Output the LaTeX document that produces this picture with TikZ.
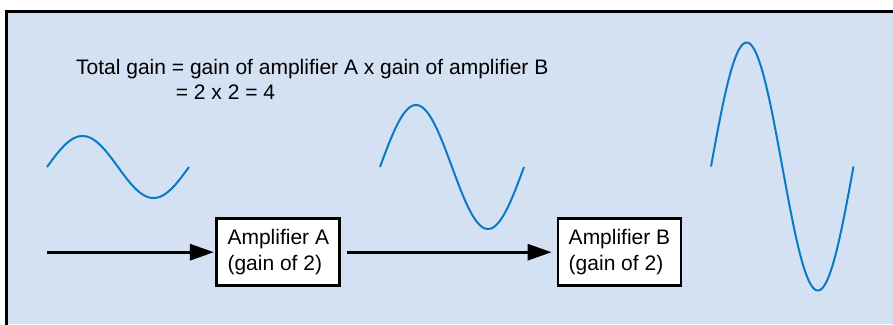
\documentclass[tikz,border=0pt]{standalone}
\usepackage{fontspec}
\setmainfont{Liberation Sans}
\usetikzlibrary{arrows.meta}
\definecolor{bgblue}{RGB}{212,225,243}
\definecolor{waveblue}{RGB}{10,122,196}
\tikzset{
  frameline/.style={line width=3pt, line cap=rect},
  wave/.style={draw=waveblue, line width=2pt},
  ampbox/.style={draw=black, fill=white, line width=2.8pt, minimum width=123pt, minimum height=67pt, inner sep=0pt, align=left, font=\fontsize{21}{26}\selectfont},
  txt/.style={inner sep=0pt, anchor=base west, font=\fontsize{21}{25}\selectfont},
  sig/.style={line width=3pt, -{Triangle[length=24pt, width=16pt]}}
}
\begin{document}
\begin{tikzpicture}[x=1pt, y=-1pt]
\useasboundingbox (0,0) rectangle (893,324);
% background panel
\fill[bgblue] (6,10) rectangle (893,324);
\draw[frameline] (6.5,324) -- (6.5,11.3) -- (893,11.3);
% caption
\node[txt] (t1) at (76,74) {Total gain = gain of amplifier A x gain of amplifier B};
\node[txt] (t2) at (175.7,99) {= 2 x 2 = 4};
% waves
\draw[wave] plot[domain=0:360, samples=120] ({47+\x/360*142}, {167-31*sin(\x)});
\draw[wave] plot[domain=0:360, samples=120] ({380+\x/360*144}, {167-62*sin(\x)});
\draw[wave] plot[domain=0:360, samples=120] ({711+\x/360*142.5}, {166.5-124*sin(\x)});
% amplifiers
\node[ampbox] (A) at (278.3,252.2) {Amplifier A\\(gain of 2)};
\node[ampbox] (B) at (619.5,252.2) {Amplifier B\\(gain of 2)};
\coordinate (in) at (47,252.2);
\draw[sig, shorten >=1.5pt] (in) -- (A);
\draw[sig, shorten <=6pt, shorten >=5pt] (A) -- (B);
\end{tikzpicture}
\end{document}
